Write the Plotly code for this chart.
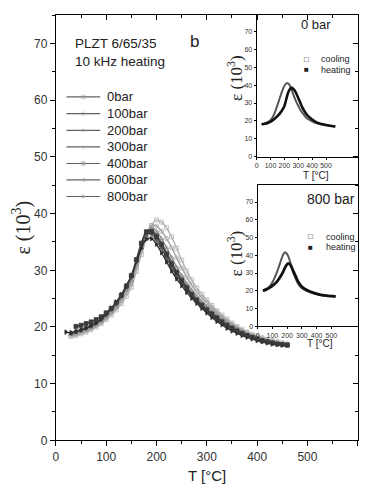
import plotly.graph_objects as go

# ---------------- data (main plot, heating, 10 kHz) ----------------
T_common = [30, 40, 50, 60, 70, 80, 90, 100, 110, 120, 130, 140, 150, 160, 170, 180, 190, 200,
            210, 220, 230, 240, 250, 260, 270, 280, 290, 300, 310, 320, 330, 340, 350, 360,
            370, 380, 390, 400, 410, 420, 430, 440, 450, 460]
T_400 = T_common[1:]
T_800 = [20] + T_common

eps_0bar = [18.3, 18.5, 18.8, 19.1, 19.5, 20.0, 20.6, 21.3, 22.1, 23.0, 24.1, 25.4, 27.0, 29.8, 32.8,
            35.6, 37.9, 38.9, 38.5, 37.5, 35.9, 33.9, 31.8, 29.9, 28.3, 26.9, 25.8, 24.8, 23.8, 22.9,
            22.1, 21.4, 20.7, 20.1, 19.6, 19.1, 18.7, 18.4, 18.1, 17.8, 17.6, 17.4, 17.2, 17.0]
eps_100bar = [18.5, 18.7, 19.0, 19.3, 19.7, 20.2, 20.8, 21.6, 22.4, 23.4, 24.6, 26.0, 27.7, 30.5, 33.5,
              36.2, 37.9, 37.8, 36.9, 35.6, 34.0, 32.2, 30.4, 28.8, 27.4, 26.2, 25.2, 24.3, 23.4, 22.6,
              21.8, 21.1, 20.5, 19.9, 19.4, 19.0, 18.6, 18.3, 18.0, 17.7, 17.5, 17.3, 17.1, 17.0]
eps_200bar = [18.6, 18.9, 19.2, 19.5, 19.9, 20.4, 21.0, 21.8, 22.7, 23.7, 25.0, 26.5, 28.2, 31.0, 34.0,
              36.6, 37.5, 36.9, 35.6, 34.0, 32.3, 30.6, 29.1, 27.7, 26.5, 25.4, 24.5, 23.7, 22.9, 22.1,
              21.4, 20.8, 20.2, 19.7, 19.2, 18.8, 18.4, 18.1, 17.8, 17.6, 17.4, 17.2, 17.0, 16.9]
eps_300bar = [18.8, 19.1, 19.4, 19.8, 20.2, 20.7, 21.3, 22.1, 23.0, 24.0, 25.3, 26.9, 28.7, 31.6, 34.6,
              36.9, 37.1, 36.3, 34.9, 33.2, 31.5, 29.9, 28.5, 27.2, 26.0, 25.0, 24.1, 23.3, 22.5, 21.8,
              21.1, 20.5, 19.9, 19.4, 19.0, 18.6, 18.3, 18.0, 17.7, 17.5, 17.3, 17.1, 17.0, 16.9]
eps_400bar = [20.1, 20.3, 20.6, 20.9, 21.3, 21.8, 22.5, 23.3, 24.3, 25.6, 27.2, 29.1, 31.9, 34.8,
              36.8, 36.8, 35.9, 34.5, 32.8, 31.1, 29.6, 28.2, 26.9, 25.7, 24.7, 23.8, 23.0, 22.3, 21.6,
              20.9, 20.3, 19.8, 19.3, 18.9, 18.5, 18.2, 17.9, 17.6, 17.4, 17.2, 17.0, 16.9, 16.8]
eps_600bar = [18.9, 19.2, 19.5, 19.9, 20.3, 20.8, 21.4, 22.3, 23.2, 24.3, 25.6, 27.2, 29.0, 31.7, 34.4,
              36.3, 36.4, 35.4, 33.9, 32.2, 30.6, 29.1, 27.8, 26.6, 25.5, 24.5, 23.6, 22.8, 22.0, 21.3,
              20.7, 20.1, 19.6, 19.1, 18.7, 18.4, 18.1, 17.8, 17.5, 17.3, 17.1, 17.0, 16.9, 16.8]
eps_800bar = [19.1, 19.0, 19.2, 19.5, 19.8, 20.2, 20.7, 21.4, 22.3, 23.3, 24.4, 25.7, 27.3, 29.0, 31.5,
              33.9, 35.5, 35.6, 34.6, 33.1, 31.5, 29.9, 28.5, 27.3, 26.1, 25.1, 24.2, 23.3, 22.5, 21.7,
              21.0, 20.4, 19.8, 19.3, 18.9, 18.5, 18.2, 17.9, 17.6, 17.4, 17.2, 17.0, 16.9, 16.8, 16.8]

series_names = ["0bar", "100bar", "200bar", "300bar", "400bar", "600bar", "800bar"]

# ---------------- data (insets, read on inset axes) ----------------
in0_T_cool = [36, 60, 80, 102, 125, 150, 170, 186, 205, 221, 233, 245, 263, 281, 300, 317, 340, 364, 400, 436, 500, 567]
in0_e_cool = [18.1, 18.6, 19.3, 20.5, 23.5, 28.8, 33.5, 37.0, 40.2, 41.2, 40.5, 38.8, 35.0, 31.5, 28.5, 26.0, 23.5, 21.4, 19.8, 18.7, 17.6, 16.9]
in0_T_heat = [36, 60, 80, 102, 130, 162, 180, 198, 210, 221, 235, 252, 265, 281, 300, 317, 340, 364, 400, 436, 500, 567]
in0_e_heat = [18.1, 18.4, 18.8, 19.6, 21.2, 23.6, 25.5, 27.9, 31.0, 34.3, 37.2, 38.5, 37.8, 36.1, 32.8, 29.7, 26.0, 23.3, 20.8, 19.0, 17.7, 16.9]

in800_T_cool = [36, 60, 85, 108, 130, 150, 164, 176, 186, 197, 208, 225, 242, 260, 276, 300, 332, 380, 422, 480, 529]
in800_e_cool = [20.0, 21.0, 22.8, 26.0, 30.2, 35.0, 38.5, 40.8, 41.7, 41.0, 39.4, 35.0, 30.2, 26.5, 23.7, 21.5, 20.0, 18.6, 17.6, 17.1, 16.9]
in800_T_heat = [36, 60, 85, 108, 130, 155, 175, 192, 208, 222, 242, 260, 276, 300, 332, 380, 422, 480, 529]
in800_e_heat = [20.0, 20.8, 21.9, 23.3, 25.0, 28.0, 31.1, 34.0, 35.4, 34.6, 31.1, 27.8, 25.0, 22.3, 20.4, 18.8, 17.8, 17.1, 16.9]

inset_ticks = [0, 100, 200, 300, 400, 500]
inset_yticks = [0, 10, 20, 30, 40, 50, 60, 70]

# ---------------- styling ----------------
W, H = 368, 491
FONT = "Liberation Sans, Arial, sans-serif"
SERIF = "Liberation Serif, Times New Roman, serif"

def px_x(p):
    return p / W

def px_y(p):
    return 1 - p / H

main_xdom = [px_x(53.3), px_x(357.7)]
main_ydom = [px_y(446.7), px_y(15.5)]
in1_xdom = [px_x(255.7), px_x(357.7)]
in1_ydom = [px_y(159), px_y(15.5)]
in2_xdom = [px_x(256.7), px_x(357.7)]
in2_ydom = [px_y(331), px_y(187.3)]

styles = {
    "0bar":   dict(color="#b4b4b4", symbol="square-open"),
    "100bar": dict(color="#a2a2a2", symbol="circle-open"),
    "200bar": dict(color="#909090", symbol="triangle-up-open"),
    "300bar": dict(color="#6e6e6e", symbol="triangle-down"),
    "400bar": dict(color="#3a3a3a", symbol="square"),
    "600bar": dict(color="#5a5a5a", symbol="triangle-left"),
    "800bar": dict(color="#2e2e2e", symbol="triangle-right"),
}

fig = go.Figure()

data_main = [
    ("0bar", T_common, eps_0bar),
    ("100bar", T_common, eps_100bar),
    ("200bar", T_common, eps_200bar),
    ("300bar", T_common, eps_300bar),
    ("600bar", T_common, eps_600bar),
    ("800bar", T_800, eps_800bar),
    ("400bar", T_400, eps_400bar),
]
for name, xs, ys in data_main:
    st = styles[name]
    fig.add_trace(go.Scatter(
        x=xs, y=ys, name=name, mode="lines+markers", line_shape="spline",
        line=dict(color=st["color"], width=1.4),
        marker=dict(symbol=st["symbol"], size=4, color=st["color"], line=dict(width=0.8, color=st["color"])),
        xaxis="x", yaxis="y", showlegend=False, cliponaxis=False))

# overlay axes for inside mirror ticks (top/right)
fig.add_trace(go.Scatter(x=[None], y=[None], xaxis="x5", yaxis="y5", showlegend=False, hoverinfo="skip"))

# insets
for xs, ys, ax, ay, col, w in [
    (in0_T_cool, in0_e_cool, "x2", "y2", "#555555", 2.0),
    (in0_T_heat, in0_e_heat, "x2", "y2", "#111111", 2.6),
    (in800_T_cool, in800_e_cool, "x3", "y3", "#555555", 2.0),
    (in800_T_heat, in800_e_heat, "x3", "y3", "#111111", 2.8),
]:
    fig.add_trace(go.Scatter(x=xs, y=ys, mode="lines", line_shape="spline",
                             line=dict(color=col, width=w), xaxis=ax, yaxis=ay,
                             showlegend=False))

# manual legend drawn on a pixel-space helper axis
leg_y = [98.3, 115.3, 132.3, 149.0, 165.8, 182.5, 199.3]
for name, yy in zip(series_names, leg_y):
    st = styles[name]
    fig.add_trace(go.Scatter(
        x=[64, 81, 98], y=[yy, yy, yy], mode="lines+markers", xaxis="x4", yaxis="y4",
        line=dict(color="#606060", width=1.1),
        marker=dict(symbol=st["symbol"], size=[0, 3.5, 0], color="#a0a0a0",
                    line=dict(width=0.7, color="#a0a0a0")),
        showlegend=False, hoverinfo="skip"))

axis_common = dict(showline=True, linecolor="black", linewidth=1.3, showgrid=False, zeroline=False,
                   tickcolor="black", tickfont=dict(family=FONT, size=12, color="#333333"))
inset_font = dict(family=FONT, size=7, color="#333333")

fig.update_layout(
    width=W, height=H, margin=dict(l=0, r=0, t=0, b=0),
    paper_bgcolor="white", plot_bgcolor="rgba(0,0,0,0)", showlegend=False,
    xaxis=dict(domain=main_xdom, range=[0, 600], tickvals=[0, 100, 200, 300, 400, 500, 600],
               ticks="outside", ticklen=5, tickwidth=1, mirror=True,
               minor=dict(dtick=50, ticks="outside", ticklen=3, tickcolor="black"),
               anchor="y", **axis_common),
    yaxis=dict(domain=main_ydom, range=[0, 75], tickvals=[0, 10, 20, 30, 40, 50, 60, 70],
               ticks="outside", ticklen=5, tickwidth=1, mirror=True,
               minor=dict(dtick=5, ticks="outside", ticklen=3, tickcolor="black"),
               anchor="x", **axis_common),
    xaxis5=dict(domain=main_xdom, range=[0, 600], overlaying="x", side="top", anchor="y5",
                tickvals=[0, 100, 200, 300, 400, 500, 600], ticks="inside", ticklen=5,
                showticklabels=False, showline=False, showgrid=False, zeroline=False, tickcolor="black",
                minor=dict(dtick=50, ticks="inside", ticklen=3, tickcolor="black")),
    yaxis5=dict(domain=main_ydom, range=[0, 75], overlaying="y", side="right", anchor="x5",
                tickvals=[0, 10, 20, 30, 40, 50, 60, 70], ticks="inside", ticklen=5,
                showticklabels=False, showline=False, showgrid=False, zeroline=False, tickcolor="black",
                minor=dict(dtick=5, ticks="inside", ticklen=3, tickcolor="black")),
    xaxis2=dict(domain=in1_xdom, range=[0, 729], tickvals=inset_ticks, ticks="outside", ticklen=2,
                anchor="y2", showline=True, linecolor="black", linewidth=1, mirror=True,
                showgrid=False, zeroline=False, tickcolor="black", tickfont=inset_font),
    yaxis2=dict(domain=in1_ydom, range=[0, 79], tickvals=inset_yticks, ticks="outside", ticklen=2,
                anchor="x2", showline=True, linecolor="black", linewidth=1, mirror=True,
                showgrid=False, zeroline=False, tickcolor="black", tickfont=inset_font),
    xaxis3=dict(domain=in2_xdom, range=[0, 679], tickvals=inset_ticks, ticks="outside", ticklen=2,
                anchor="y3", showline=True, linecolor="black", linewidth=1, mirror=True,
                showgrid=False, zeroline=False, tickcolor="black", tickfont=inset_font),
    yaxis3=dict(domain=in2_ydom, range=[0, 79.8], tickvals=inset_yticks, ticks="outside", ticklen=2,
                anchor="x3", showline=True, linecolor="black", linewidth=1, mirror=True,
                showgrid=False, zeroline=False, tickcolor="black", tickfont=inset_font),
    xaxis4=dict(domain=[0, 1], range=[0, W], visible=False, anchor="y4", fixedrange=True),
    yaxis4=dict(domain=[0, 1], range=[H, 0], visible=False, anchor="x4", fixedrange=True),
)

def ann(text, x, y, size, family=FONT, xanchor="center", yanchor="middle", angle=0, color="#222222"):
    fig.add_annotation(text=text, x=px_x(x), y=px_y(y), xref="paper", yref="paper",
                       showarrow=False, xanchor=xanchor, yanchor=yanchor, textangle=angle,
                       font=dict(family=family, size=size, color=color))

# main texts
ann("PLZT 6/65/35", 71, 44, 13.5, xanchor="left")
ann("10 kHz heating", 71, 62, 13.5, xanchor="left")
ann("b", 193, 42, 17)
for name, yy in zip(series_names, leg_y):
    ann(name, 103, yy, 13, xanchor="left")
ann("T [°C]", 206, 482, 15)
ann("ε (10<sup>3</sup>)", 19, 231, 20, family=SERIF, angle=-90)

# inset texts
ann("0 bar", 316, 25, 13)
ann("800 bar", 331, 202, 14)
ann("□", 306, 60, 8)
ann("cooling", 319, 60, 9, xanchor="left")
ann("■", 306, 71, 8)
ann("heating", 319, 71, 9, xanchor="left")
ann("□", 310, 240, 8)
ann("cooling", 324, 240, 9, xanchor="left")
ann("■", 310, 251, 8)
ann("heating", 324, 251, 9, xanchor="left")
ann("T [°C]", 316, 178, 10)
ann("T [°C]", 320, 348, 10)
ann("ε (10<sup>3</sup>)", 234, 79, 17, family=SERIF, angle=-90)
ann("ε (10<sup>3</sup>)", 234, 257, 17, family=SERIF, angle=-90)

fig.write_html("out.html", config={"displayModeBar": False},
               post_script="document.body.style.margin='0';")
